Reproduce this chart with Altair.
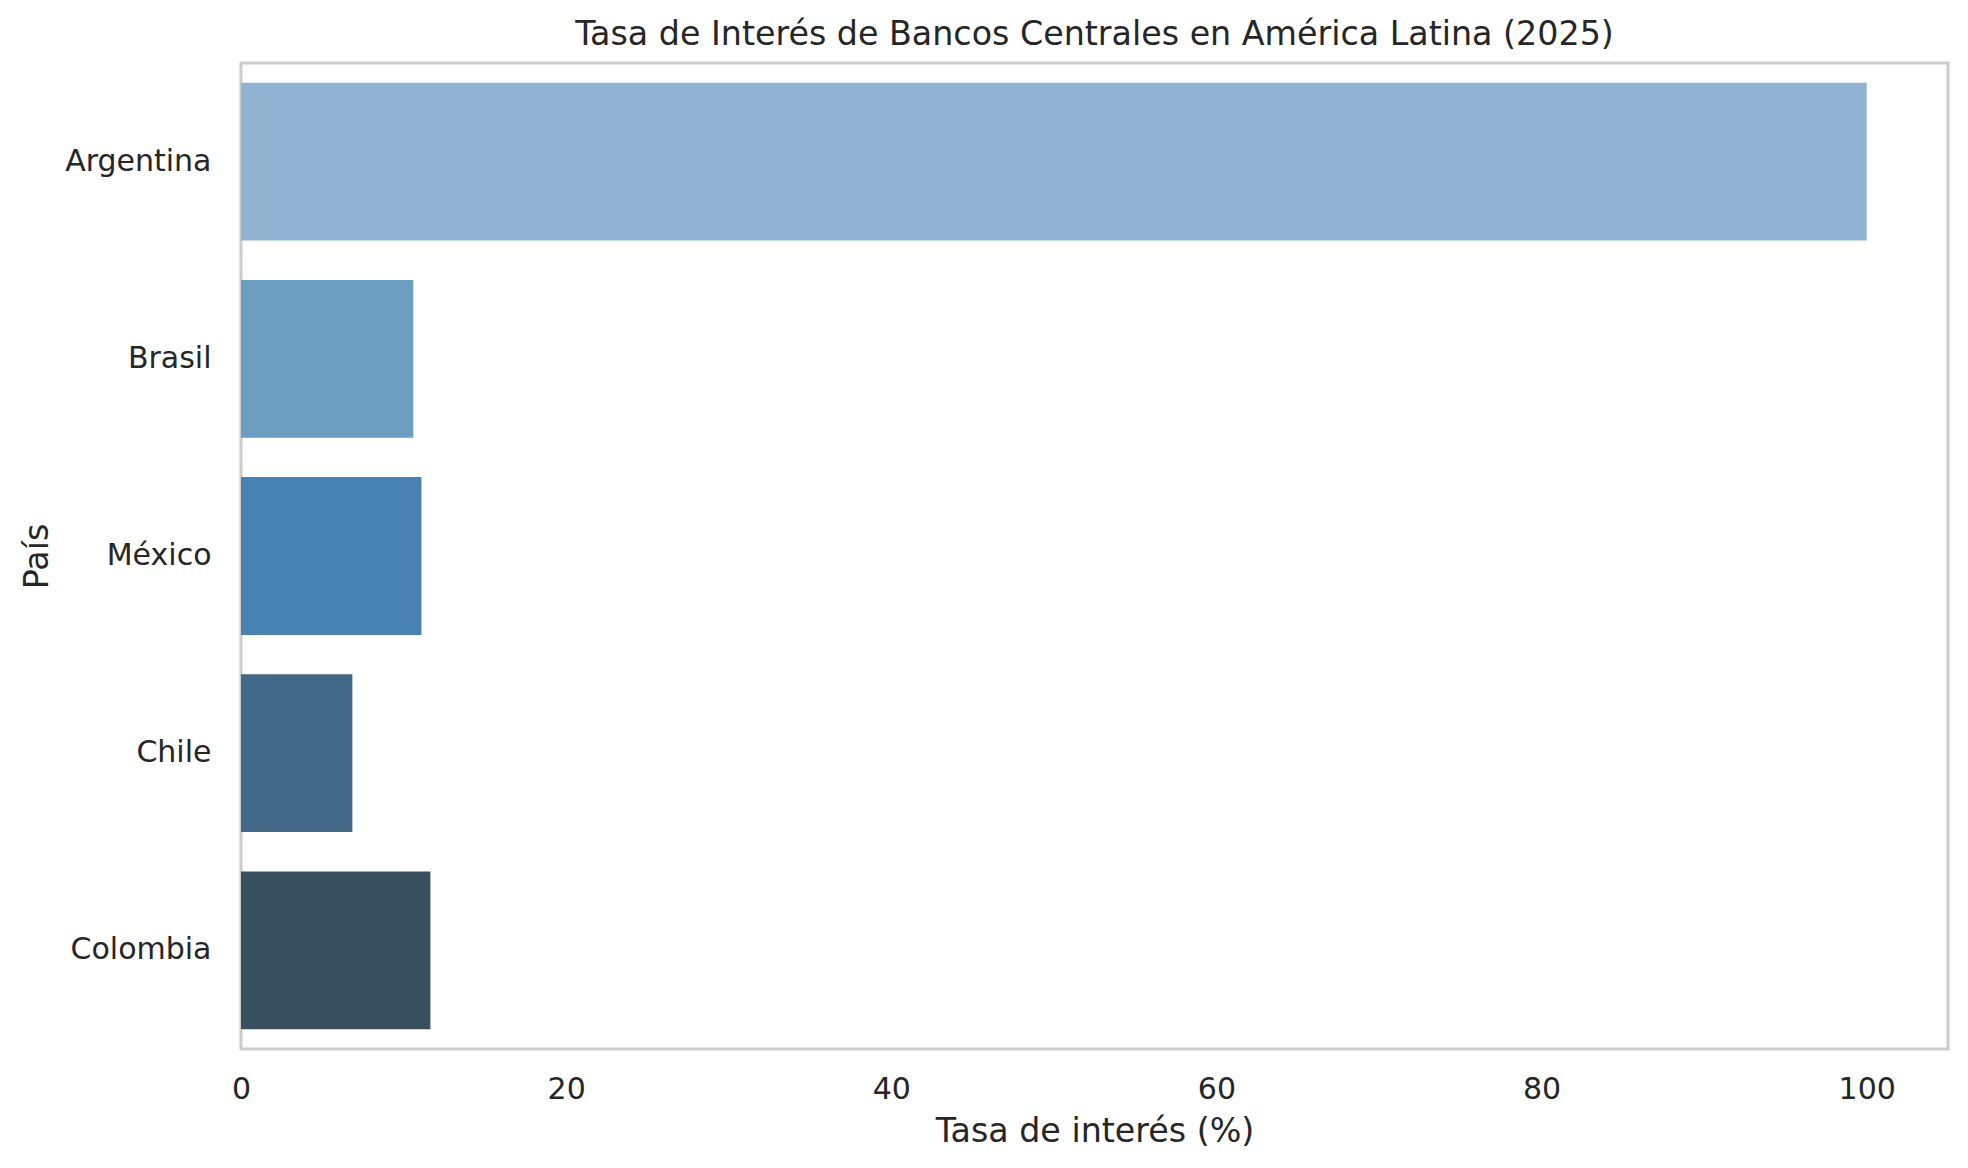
import pandas as pd
import altair as alt

# interest rates by country
paises = ['Argentina', 'Brasil', 'México', 'Chile', 'Colombia']
tasas = [100.0, 10.6, 11.1, 6.85, 11.65]
colores = ['#8fb3d0', '#6c9ec2', '#4782b0', '#426887', '#384f5d']
x_ticks = [0, 20, 40, 60, 80, 100]

df = pd.DataFrame({'País': paises, 'Tasa de interés (%)': tasas})

font = 'DejaVu Sans'

chart = alt.Chart(df).mark_bar().encode(
    x=alt.X('Tasa de interés (%):Q',
            scale=alt.Scale(domain=[0, 105], nice=False, zero=True),
            axis=alt.Axis(values=x_ticks, grid=False, domain=False, ticks=False, tickSize=0,
                          labelFontSize=30, labelPadding=49, labelBaseline='alphabetic',
                          labelColor='#262626', labelFont=font, labelFlush=False,
                          titleFontSize=33.3, titleFontWeight='normal', titleColor='#262626',
                          titleFont=font, titleBaseline='alphabetic', titleY=92)),
    y=alt.Y('País:N', sort=paises,
            scale=alt.Scale(paddingInner=0.2, paddingOuter=0.1),
            axis=alt.Axis(grid=False, domain=False, ticks=False, tickSize=0,
                          labelFontSize=30, labelPadding=30, labelColor='#262626',
                          labelFont=font,
                          titleFontSize=33.3, titleFontWeight='normal', titleColor='#262626',
                          titleFont=font, titleBaseline='alphabetic', titleX=-194,
                          titleAngle=270)),
    color=alt.Color('País:N', scale=alt.Scale(domain=paises, range=colores), legend=None)
).properties(
    title=alt.TitleParams('Tasa de Interés de Bancos Centrales en América Latina (2025)',
                          fontSize=33.3, fontWeight='normal', color='#262626', font=font,
                          anchor='middle', baseline='alphabetic', offset=17, dy=32),
    width=1707, height=986,
    background='white',
    padding={'left': 233, 'top': 55, 'right': 12, 'bottom': 100},
    autosize=alt.AutoSizeParams(type='none')
).configure_view(
    stroke='#cccccc', strokeWidth=3
)

chart.save("out.html", embed_options={"renderer": "svg", "actions": False})
